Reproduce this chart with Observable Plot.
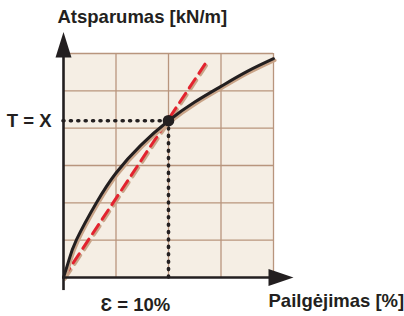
<!DOCTYPE html>
<html><head><meta charset="utf-8">
<script src="https://cdn.jsdelivr.net/npm/d3@7"></script>
<script src="https://cdn.jsdelivr.net/npm/@observablehq/plot@0.6"></script>
<style>html,body{margin:0;padding:0;background:#fff;} svg{display:block;}</style>
</head><body><div id="chart"></div>
<script>
// data (x in grid units of 5 % elongation, y in grid units of resistance)
const strain = [0, 0.1, 0.25, 0.63, 1.0, 1.47, 2, 2.5, 3, 3.5, 4];
const resistance = [0, 0.45, 1.02, 2.01, 2.8, 3.54, 4.2, 4.7, 5.12, 5.52, 5.86];
const secantX = [0, 2.74];
const secantY = [0, 5.81];
const pointX = [2];
const pointY = [4.2];
const xGrid = [1, 2, 3, 4];
const yGrid = [1, 2, 3, 4, 5, 6];
const yLabel = "Atsparumas [kN/m]";
const xLabel = "Pailgėjimas [%]";
const tLabel = "T = X";
const epsLabel = "Ɛ = 10%";

const curve = strain.map((x, i) => ({x, y: resistance[i]}));
const secant = secantX.map((x, i) => ({x, y: secantY[i]}));
const point = pointX.map((x, i) => ({x, y: pointY[i]}));

const ink = "#231f20";
const gridC = "#b8957d";
const shadow = "#c9a488";
const red = "#e3232f";

const arrowRight = {draw(ctx) { ctx.moveTo(-5, -8.5); ctx.lineTo(20, 0); ctx.lineTo(-5, 8.5); ctx.closePath(); }};
const arrowUp = {draw(ctx) { ctx.moveTo(-8, 4); ctx.lineTo(0, -21.5); ctx.lineTo(8, 4); ctx.closePath(); }};

const font = "18.5px";
const chart = Plot.plot({
  width: 404, height: 316,
  marginLeft: 63, marginRight: 131, marginTop: 53, marginBottom: 39,
  x: {domain: [0, 4], axis: null},
  y: {domain: [0, 6], axis: null},
  style: {fontFamily: "'Liberation Sans', Arial, sans-serif", background: "#fff"},
  marks: [
    Plot.frame({fill: "#f5eee4", stroke: "none"}),
    Plot.ruleX(xGrid, {stroke: gridC, strokeWidth: 1.3}),
    Plot.ruleY(yGrid, {stroke: gridC, strokeWidth: 1.3}),
    // dotted guides
    Plot.ruleY(point, {y: "y", x1: () => 0, x2: "x", stroke: ink, strokeWidth: 3.6, strokeDasharray: "1,6.4", strokeLinecap: "round"}),
    Plot.ruleX(point, {x: "x", y1: () => 0, y2: "y", stroke: ink, strokeWidth: 3.6, strokeDasharray: "1,6.4", strokeLinecap: "round"}),
    // secant (dashed red) with shadow
    Plot.line(secant, {x: "x", y: "y", stroke: shadow, strokeWidth: 3, strokeDasharray: "11,6.5", dx: 1.5, dy: 1.5}),
    Plot.line(secant, {x: "x", y: "y", stroke: red, strokeWidth: 3, strokeDasharray: "11,6.5"}),
    // curve with shadow
    Plot.line(curve, {x: "x", y: "y", curve: "natural", stroke: shadow, strokeWidth: 3, dx: 1.6, dy: 1.6}),
    Plot.line(curve, {x: "x", y: "y", curve: "natural", stroke: ink, strokeWidth: 3}),
    Plot.dot(point, {x: "x", y: "y", r: 5.8, fill: ink, stroke: "none"}),
    // axes
    Plot.ruleY([0], {x1: () => 0, x2: () => 3.95, stroke: ink, strokeWidth: 2.6}),
    Plot.ruleX([0], {y1: () => -0.35, y2: () => 5.95, stroke: ink, strokeWidth: 2.6}),
    Plot.dot([{x: 4, y: 0}], {x: "x", y: "y", symbol: arrowRight, r: 5, fill: ink, stroke: "none"}),
    Plot.dot([{x: 0, y: 6}], {x: "x", y: "y", symbol: arrowUp, r: 5, fill: ink, stroke: "none"}),
    // labels
    Plot.text([yLabel], {frameAnchor: "top-left", text: d => d, dx: -6, dy: -36.6, textAnchor: "start", lineAnchor: "middle", fontSize: font, fontWeight: "bold", fill: ink}),
    Plot.text(point, {x: () => 0, y: "y", text: () => tLabel, dx: -12, textAnchor: "end", lineAnchor: "middle", fontSize: font, fontWeight: "bold", fill: ink}),
    Plot.text(point, {x: "x", y: () => 0, text: () => epsLabel, dx: -68, dy: 28, textAnchor: "start", lineAnchor: "middle", fontSize: font, fontWeight: "bold", fill: ink}),
    Plot.text([xLabel], {x: () => 4, y: () => 0, text: d => d, dx: -5, dy: 24, textAnchor: "start", lineAnchor: "middle", fontSize: font, fontWeight: "bold", fill: ink})
  ]
});
document.getElementById("chart").appendChild(chart);
</script>
</body></html>
